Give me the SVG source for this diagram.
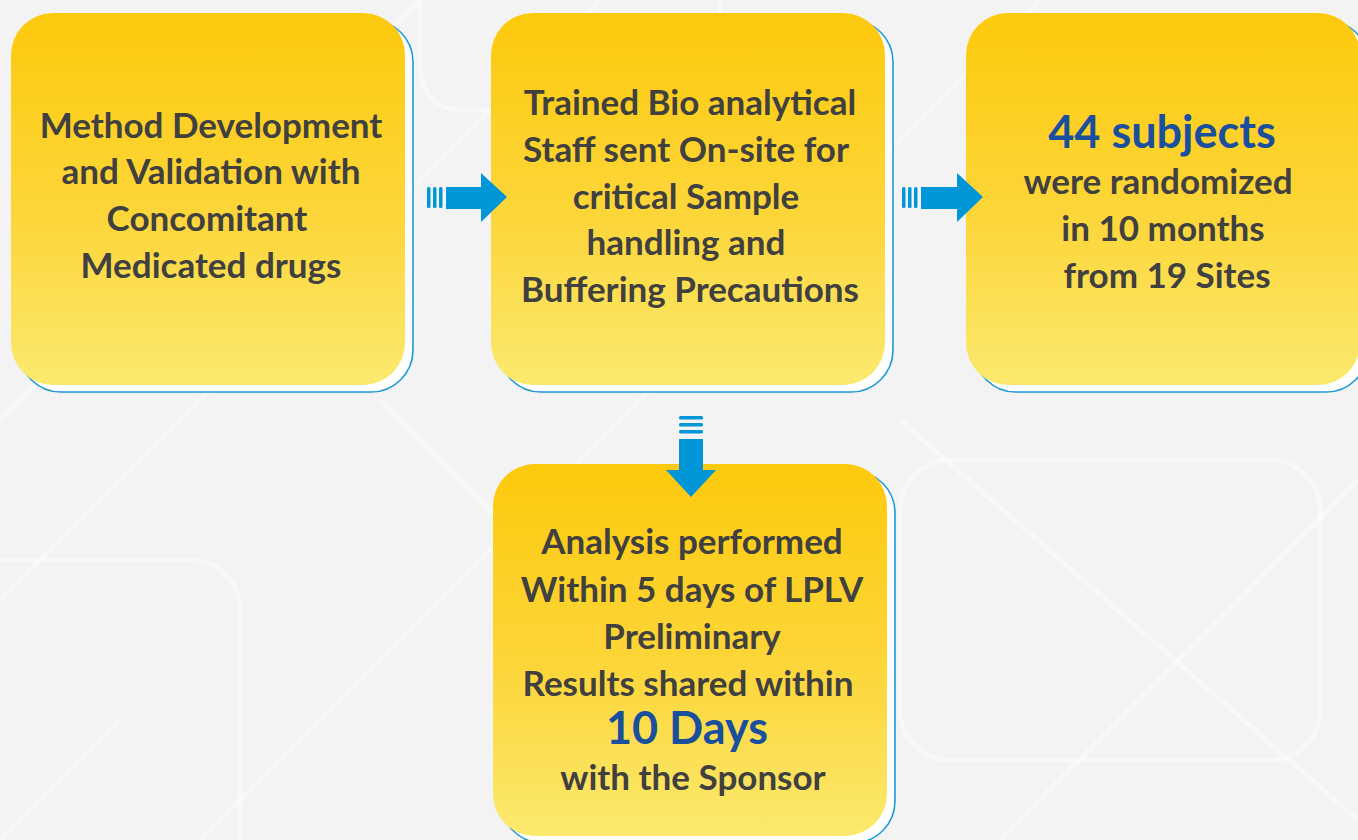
<svg xmlns="http://www.w3.org/2000/svg" width="1358" height="840" viewBox="0 0 1358 840">
<defs>
<linearGradient id="yg" x1="0" y1="0" x2="0" y2="1">
<stop offset="0" stop-color="#fdc90c"/>
<stop offset="0.55" stop-color="#fcd63a"/>
<stop offset="1" stop-color="#fbe96e"/>
</linearGradient>
<style>
.bg-line{stroke:#ffffff;stroke-width:5;fill:none;opacity:0.45}
.shadow{fill:#ffffff;stroke:#1a9ad6;stroke-width:1.6}
.box{fill:url(#yg)}
.t{font-family:"Lato","Liberation Sans",sans-serif;font-weight:700;font-size:35px;fill:#404040;text-anchor:middle}
.big{font-family:"Lato","Liberation Sans",sans-serif;font-weight:700;font-size:45px;fill:#1a4f9d;text-anchor:middle}
.arrow{fill:#0096d8}
</style>
</defs>
<rect width="1358" height="840" fill="#f3f3f3"/>
<g id="background">
<path class="bg-line" d="M0 420 L420 0"/>
<path class="bg-line" d="M0 600 L600 0"/>
<path class="bg-line" d="M200 840 L1040 0"/>
<path class="bg-line" d="M0 840 L120 720"/>
<path class="bg-line" d="M380 400 L820 840"/>
<path class="bg-line" d="M900 420 L1358 820"/>
<path class="bg-line" d="M1000 840 L1358 480"/>
<rect class="bg-line" x="420" y="-40" width="300" height="150" rx="40"/>
<rect class="bg-line" x="900" y="460" width="420" height="300" rx="50"/>
<rect class="bg-line" x="-60" y="560" width="300" height="330" rx="50"/>
</g>
<g id="node1">
<rect class="shadow" x="19" y="20" width="394" height="372" rx="42"/>
<rect class="box" x="11" y="13" width="394" height="372" rx="42"/>
<text class="t" x="211" y="138">Method Development</text>
<text class="t" x="211" y="184">and Validation with</text>
<text class="t" x="207" y="231">Concomitant</text>
<text class="t" x="211" y="278">Medicated drugs</text>
</g>
<g id="node2">
<rect class="shadow" x="499" y="20" width="394" height="372" rx="42"/>
<rect class="box" x="491" y="13" width="394" height="372" rx="42"/>
<text class="t" x="690" y="115">Trained Bio analytical</text>
<text class="t" x="686" y="162">Staff sent On-site for</text>
<text class="t" x="686" y="209">critical Sample</text>
<text class="t" x="686" y="255">handling and</text>
<text class="t" x="690" y="302">Buffering Precautions</text>
</g>
<g id="node3">
<rect class="shadow" x="974" y="20" width="394" height="372" rx="42"/>
<rect class="box" x="966" y="13" width="394" height="372" rx="42"/>
<text class="big" x="1162" y="148">44 subjects</text>
<text class="t" x="1158" y="194">were randomized</text>
<text class="t" x="1163" y="241">in 10 months</text>
<text class="t" x="1167" y="288">from 19 Sites</text>
</g>
<g id="node4">
<rect class="shadow" x="501" y="471" width="394" height="372" rx="42"/>
<rect class="box" x="493" y="464" width="394" height="372" rx="42"/>
<text class="t" x="692" y="554">Analysis performed</text>
<text class="t" x="692" y="602">Within 5 days of LPLV</text>
<text class="t" x="692" y="649">Preliminary</text>
<text class="t" x="688" y="696">Results shared within</text>
<text class="big" x="687" y="744">10 Days</text>
<text class="t" x="693" y="790">with the Sponsor</text>
</g>
<g id="connectors">
<g id="arrow1">
<rect class="arrow" x="427" y="187" width="3.5" height="21" rx="1.5"/>
<rect class="arrow" x="433" y="187" width="3.5" height="21" rx="1.5"/>
<rect class="arrow" x="439" y="187" width="3.5" height="21" rx="1.5"/>
<path class="arrow" d="M446 187 H481 V173 L507 197 L481 222 V209 H446 Z"/>
</g>
<g id="arrow2">
<rect class="arrow" x="902" y="187" width="3.5" height="21" rx="1.5"/>
<rect class="arrow" x="908" y="187" width="3.5" height="21" rx="1.5"/>
<rect class="arrow" x="914" y="187" width="3.5" height="21" rx="1.5"/>
<path class="arrow" d="M921 187 H957 V173 L983 197 L957 222 V209 H921 Z"/>
</g>
<g id="arrow3">
<rect class="arrow" x="679" y="416" width="24" height="3.5" rx="1.5"/>
<rect class="arrow" x="679" y="423" width="24" height="3.5" rx="1.5"/>
<rect class="arrow" x="679" y="430" width="24" height="3.5" rx="1.5"/>
<path class="arrow" d="M679 439 H703 V470 H716 L691 497 L666 470 H679 Z"/>
</g>
</g>
</svg>
